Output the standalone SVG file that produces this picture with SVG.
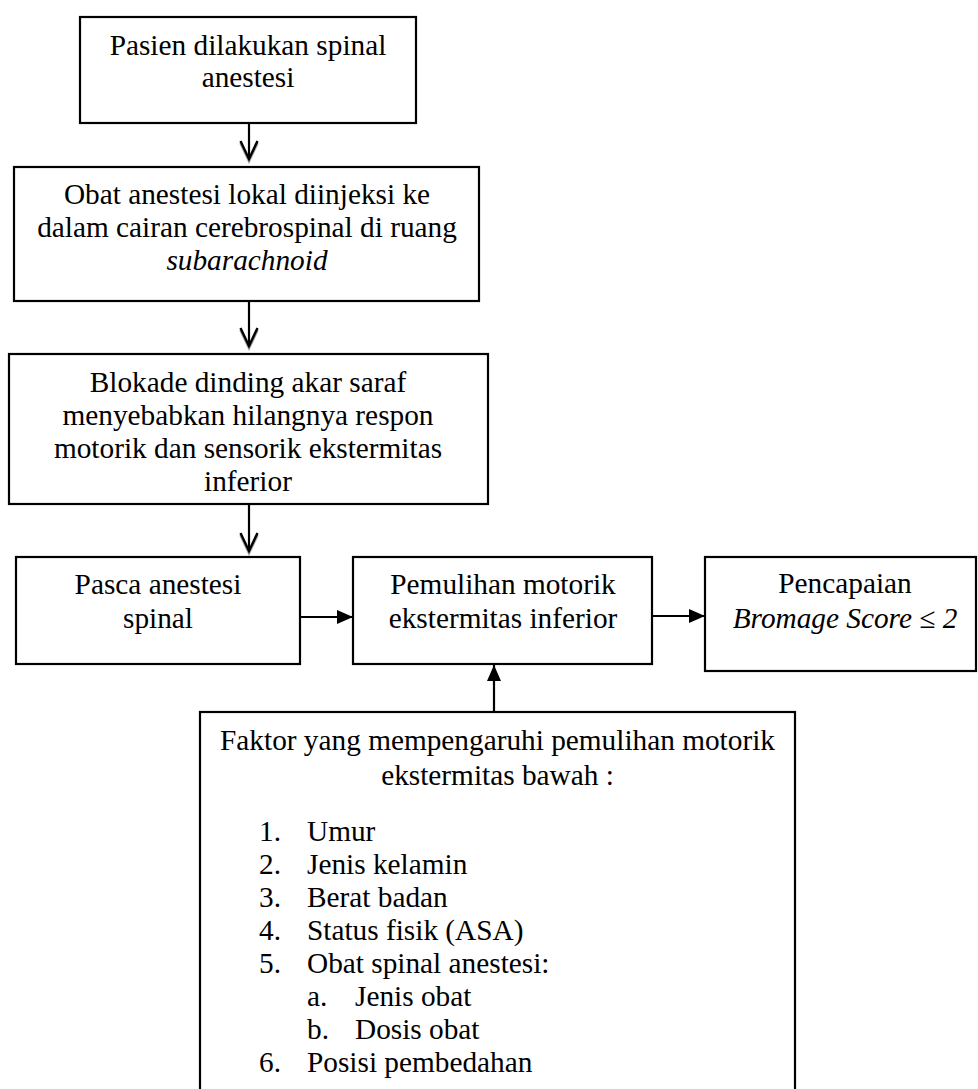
<svg xmlns="http://www.w3.org/2000/svg" xmlns:xlink="http://www.w3.org/1999/xlink" width="978" height="1089" viewBox="0 0 978 1089">
<style>
  .box { fill: #ffffff; stroke: #000000; stroke-width: 2.2; }
  .t { font-family: "Liberation Serif", "Times New Roman", serif; font-size: 29.3px; fill: #000000; }
  .c { text-anchor: middle; }
  .i { font-style: italic; }
  .ln { stroke: #000000; stroke-width: 2.2; fill: none; }
</style>
<defs>
  <marker id="tri" markerUnits="userSpaceOnUse" viewBox="0 0 16 14" refX="16" refY="7" markerWidth="16" markerHeight="14" orient="auto">
    <path d="M0,0 L16,7 L0,14 Z" fill="#000000"/>
  </marker>
  <g id="vhead">
    <path d="M-8.5,-16 L0,2 L8.5,-16" fill="none" stroke="#9a9a9a" stroke-width="2.6"/>
    <path d="M-8.5,-18 L0,0 L8.5,-18" fill="none" stroke="#000000" stroke-width="2.4"/>
  </g>
</defs>
<rect width="978" height="1089" fill="#ffffff"/>

<g id="connectors">
  <line class="ln" x1="249" y1="123" x2="249" y2="159"/>
  <use xlink:href="#vhead" x="249" y="159"/>
  <line class="ln" x1="249" y1="301" x2="249" y2="346"/>
  <use xlink:href="#vhead" x="249" y="346"/>
  <line class="ln" x1="249" y1="504" x2="249" y2="551"/>
  <use xlink:href="#vhead" x="249" y="551"/>
  <line class="ln" x1="300" y1="617" x2="353" y2="617" marker-end="url(#tri)"/>
  <line class="ln" x1="652" y1="616" x2="705" y2="616" marker-end="url(#tri)"/>
  <line class="ln" x1="494" y1="712" x2="494" y2="665" marker-end="url(#tri)"/>
</g>

<g id="n1">
  <rect class="box" x="80" y="17" width="336" height="106"/>
  <text class="t c" x="248" y="55">Pasien dilakukan spinal</text>
  <text class="t c" x="248" y="87">anestesi</text>
</g>

<g id="n2">
  <rect class="box" x="14" y="167" width="465" height="134"/>
  <text class="t c" x="247" y="204">Obat anestesi lokal diinjeksi ke</text>
  <text class="t c" x="247" y="237">dalam cairan cerebrospinal di ruang</text>
  <text class="t c i" x="247" y="270">subarachnoid</text>
</g>

<g id="n3">
  <rect class="box" x="9" y="354" width="479" height="150"/>
  <text class="t c" x="248" y="392">Blokade dinding akar saraf</text>
  <text class="t c" x="248" y="425">menyebabkan hilangnya respon</text>
  <text class="t c" x="248" y="458">motorik dan sensorik ekstermitas</text>
  <text class="t c" x="248" y="491">inferior</text>
</g>

<g id="n4">
  <rect class="box" x="16" y="557" width="284" height="107"/>
  <text class="t c" x="158" y="594">Pasca anestesi</text>
  <text class="t c" x="158" y="628">spinal</text>
</g>

<g id="n5">
  <rect class="box" x="353" y="557" width="299" height="107"/>
  <text class="t c" x="503" y="594">Pemulihan motorik</text>
  <text class="t c" x="503" y="628">ekstermitas inferior</text>
</g>

<g id="n6">
  <rect class="box" x="705" y="557" width="271" height="114"/>
  <text class="t c" x="845" y="593">Pencapaian</text>
  <text class="t c i" x="845" y="628">Bromage Score ≤ 2</text>
</g>

<g id="n7">
  <rect class="box" x="200" y="712" width="595" height="400"/>
  <text class="t c" x="497.5" y="750">Faktor yang mempengaruhi pemulihan motorik</text>
  <text class="t c" x="497.5" y="785">ekstermitas bawah :</text>
  <text class="t" x="259" y="841">1.</text><text class="t" x="307" y="841">Umur</text>
  <text class="t" x="259" y="874">2.</text><text class="t" x="307" y="874">Jenis kelamin</text>
  <text class="t" x="259" y="907">3.</text><text class="t" x="307" y="907">Berat badan</text>
  <text class="t" x="259" y="940">4.</text><text class="t" x="307" y="940">Status fisik (ASA)</text>
  <text class="t" x="259" y="973">5.</text><text class="t" x="307" y="973">Obat spinal anestesi:</text>
  <text class="t" x="307" y="1006">a.</text><text class="t" x="355" y="1006">Jenis obat</text>
  <text class="t" x="307" y="1039">b.</text><text class="t" x="355" y="1039">Dosis obat</text>
  <text class="t" x="259" y="1072">6.</text><text class="t" x="307" y="1072">Posisi pembedahan</text>
</g>
</svg>
